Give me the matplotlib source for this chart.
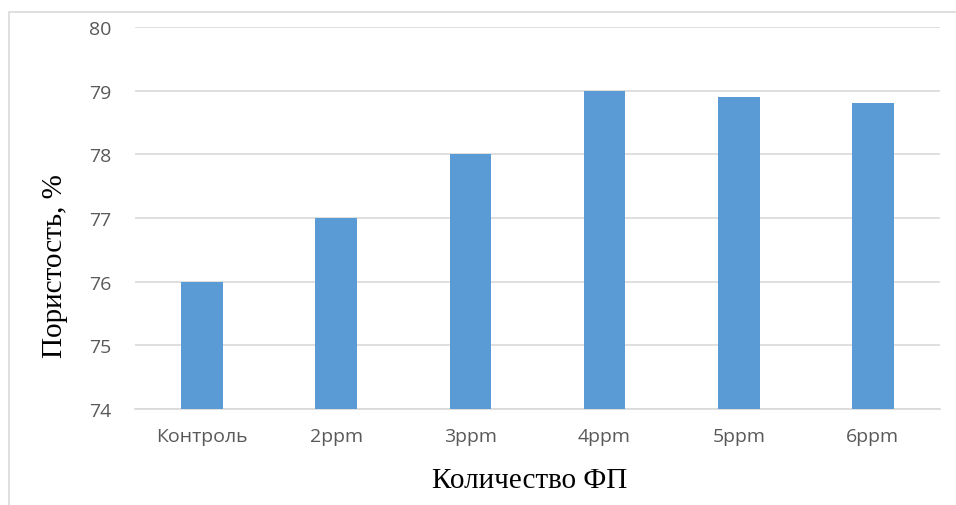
import matplotlib
matplotlib.use("Agg")
import matplotlib.pyplot as plt
from matplotlib.patches import Rectangle

categories = ["Контроль", "2ppm", "3ppm", "4ppm", "5ppm", "6ppm"]
values = [76.0, 77.0, 78.0, 79.0, 78.9, 78.8]
yticks = [74, 75, 76, 77, 78, 79, 80]

fig = plt.figure(figsize=(9.56, 5.06), dpi=100)
W, H = 956, 506
ax = fig.add_axes([135 / W, 1 - 410 / H, (940 - 135) / W, (410 - 28) / H])

ax.bar(range(len(categories)), values, width=0.31, color="#5B9BD5", zorder=3)
ax.set_ylim(74, 80)
ax.set_xlim(-0.5, len(categories) - 0.5)
ax.set_yticks(yticks)
ax.set_xticks(range(len(categories)))
ax.set_xticklabels(categories)
ax.grid(axis="y", color="#D9D9D9", linewidth=1.2, zorder=0)
for s in ["top", "right", "left"]:
    ax.spines[s].set_visible(False)
ax.spines["bottom"].set_color("#D9D9D9")
ax.spines["bottom"].set_linewidth(1.2)
ax.tick_params(axis="both", length=0, labelsize=14, labelcolor="#595959")
ax.tick_params(axis="y", pad=17)
ax.tick_params(axis="x", pad=13)
for lbl in ax.get_xticklabels() + ax.get_yticklabels():
    lbl.set_family("Open Sans")

fig.text(55 / W, 1 - 266 / H, "Пористость, %", rotation=90, ha="center", va="center",
         family="Liberation Serif", fontsize=21)
fig.text(530 / W, 1 - 481 / H, "Количество ФП", ha="center", va="center",
         family="Liberation Serif", fontsize=21)

fig.patches.append(Rectangle((9 / W, -0.1), 1.2, 1 - 13 / H + 0.1, transform=fig.transFigure,
                             fill=False, edgecolor="#D9D9D9", linewidth=1.2))

fig.savefig("out.png", dpi=100)
